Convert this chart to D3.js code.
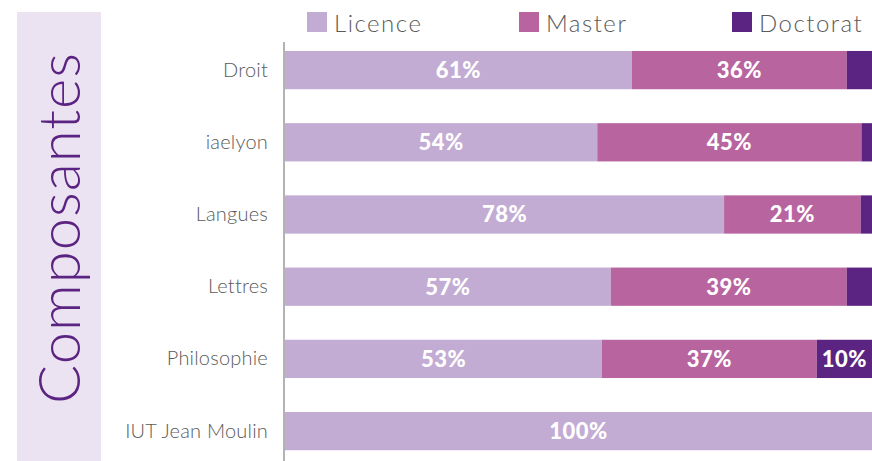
<!DOCTYPE html>
<html>
<head>
<meta charset="utf-8">
<script src="https://cdn.jsdelivr.net/npm/d3@7"></script>
<style>
    html, body { margin: 0; padding: 0; background: #fff; }
    svg { display: block; font-family: Lato, "Open Sans", sans-serif; }
</style>
</head>
<body>
<div id="chart"></div>
<script>
// categories (top to bottom)
const categories = ["Droit", "iaelyon", "Langues", "Lettres", "Philosophie", "IUT Jean Moulin"];

// share of students per level, as drawn (%)
const licence = [59.1, 53.2, 74.8, 55.5, 54.0, 100];
const master = [36.6, 45.0, 23.3, 40.2, 36.6, 0];
const doctorat = [4.3, 1.9, 1.9, 4.3, 9.4, 0];

// labels printed on the bars
const licenceLabels = ["61%", "54%", "78%", "57%", "53%", "100%"];
const masterLabels = ["36%", "45%", "21%", "39%", "37%", ""];
const doctoratLabels = ["", "", "", "", "10%", ""];

const seriesNames = ["Licence", "Master", "Doctorat"];
const axisTitle = "Composantes";

const colors = {
    Licence: "#c3acd3",
    Master: "#b8649f",
    Doctorat: "#5c2482",
    panel: "#ebe3f1",
    text: "#5a5a5a",
    axis: "#9a9a9a",
};

const width = 872;
const height = 461;

const rows = categories.map((name, i) => ({
    name: name,
    Licence: licence[i],
    Master: master[i],
    Doctorat: doctorat[i],
    labels: { Licence: licenceLabels[i], Master: masterLabels[i], Doctorat: doctoratLabels[i] },
}));

const svg = d3
    .select("#chart")
    .append("svg")
    .attr("width", width)
    .attr("height", height);

// left title panel
svg.append("rect")
    .attr("x", 17)
    .attr("y", 12)
    .attr("width", 84)
    .attr("height", height - 12)
    .attr("fill", colors.panel);

svg.append("text")
    .attr("transform", "translate(80, 228) rotate(-90)")
    .attr("text-anchor", "middle")
    .attr("fill", colors.Doctorat)
    .style("font-size", "58px")
    .style("font-weight", 300)
    .style("letter-spacing", "1px")
    .text(axisTitle);

const x = d3.scaleLinear().domain([0, 100]).range([285, 872]);

const y = d3
    .scaleBand()
    .domain(categories)
    .range([34, 467.2])
    .paddingInner(0.47)
    .paddingOuter(0.235);

const stacked = d3.stack().keys(seriesNames)(rows);

const layers = svg
    .append("g")
    .selectAll("g")
    .data(stacked)
    .enter()
    .append("g")
    .attr("fill", (d) => colors[d.key]);

layers
    .selectAll("rect")
    .data((d) => d)
    .enter()
    .append("rect")
    .attr("x", (d) => x(d[0]))
    .attr("y", (d) => y(d.data.name))
    .attr("width", (d) => x(d[1]) - x(d[0]))
    .attr("height", y.bandwidth());

// value labels, centred in each segment
layers
    .selectAll("text")
    .data((d) => d.map((seg) => ({ seg: seg, key: d.key })))
    .enter()
    .append("text")
    .attr("x", (d) => (x(d.seg[0]) + x(d.seg[1])) / 2)
    .attr("y", (d) => y(d.seg.data.name) + y.bandwidth() / 2)
    .attr("dy", "0.36em")
    .attr("text-anchor", "middle")
    .attr("fill", "#fff")
    .style("font-size", "22px")
    .style("font-weight", 900)
    .style("letter-spacing", "0.5px")
    .text((d) => d.seg.data.labels[d.key]);

// category axis
const yAxis = svg
    .append("g")
    .attr("transform", "translate(284, 0)")
    .call(d3.axisLeft(y).tickSize(0).tickPadding(16));

yAxis.select(".domain").remove();
yAxis
    .selectAll("text")
    .attr("fill", colors.text)
    .style("font-size", "20px")
    .style("font-weight", 300)
    .style("letter-spacing", "0.2px")
    .style("font-family", "Lato, sans-serif");

svg.append("line")
    .attr("x1", 284)
    .attr("x2", 284)
    .attr("y1", 42)
    .attr("y2", height)
    .attr("stroke", colors.axis)
    .attr("stroke-width", 1.5);

// legend
const legendX = [307, 519, 732];

const legend = svg
    .append("g")
    .selectAll("g")
    .data(seriesNames)
    .enter()
    .append("g")
    .attr("transform", (d, i) => `translate(${legendX[i]}, 12)`);

legend
    .append("rect")
    .attr("width", 20)
    .attr("height", 20)
    .attr("fill", (d) => colors[d]);

legend
    .append("text")
    .attr("x", 27)
    .attr("y", 20)
    .attr("fill", colors.text)
    .style("font-size", "24px")
    .style("font-weight", 300)
    .style("letter-spacing", "1.5px")
    .text((d) => d);
</script>
</body>
</html>
